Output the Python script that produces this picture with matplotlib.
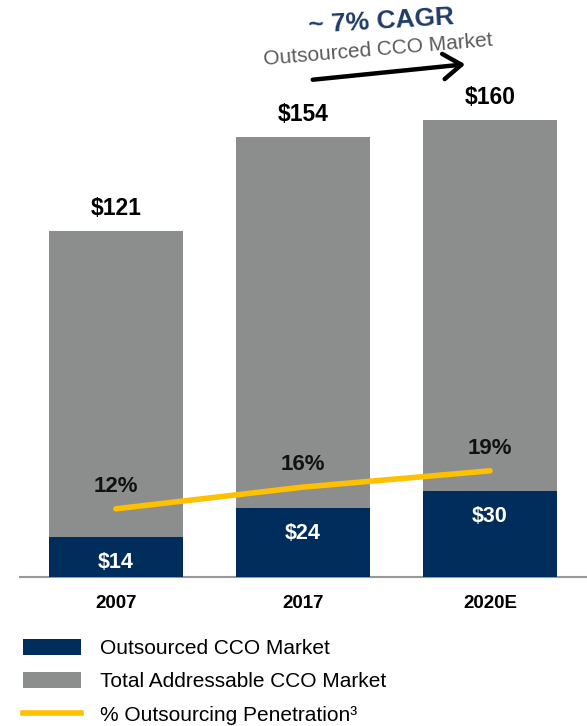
import matplotlib
matplotlib.use("Agg")
import matplotlib.pyplot as plt
from matplotlib.patches import Patch, FancyArrowPatch
from matplotlib.lines import Line2D

plt.rcParams["font.family"] = ["Liberation Sans", "DejaVu Sans"]

# data
years = ["2007", "2017", "2020E"]
total_market = [121, 154, 160]
outsourced = [14, 24, 30]
penetration = [12, 16, 19]

NAVY = "#002D5C"
GRAY = "#8C8E8D"
YELLOW = "#FFC000"

fig = plt.figure(figsize=(5.87, 7.26), dpi=100)
ax = fig.add_axes([20 / 587, 1 - 577 / 726, 1 - 20 / 587, 500 / 726])
x = list(range(len(years)))

ax.bar(x, total_market, width=0.72, color=GRAY, zorder=2)
ax.bar(x, outsourced, width=0.72, color=NAVY, zorder=3)

ax.set_xlim(-0.513, 2.519)
ax.set_ylim(0, 175)
for s in ["top", "right", "left"]:
    ax.spines[s].set_visible(False)
ax.spines["bottom"].set_color("#999999")
ax.spines["bottom"].set_linewidth(1.5)
ax.set_yticks([])
ax.set_xticks(x)
ax.set_xticklabels(years, fontsize=13.5, fontweight="bold")
ax.tick_params(axis="x", length=0, pad=13)

for xi, t in zip(x, total_market):
    ax.annotate(f"${t}", (xi, t), xytext=(0, 8), textcoords="offset points",
                ha="center", va="bottom", fontsize=16.5, fontweight="bold",
                color="black", annotation_clip=False)
for xi, o in zip(x, outsourced):
    ax.annotate(f"${o}", (xi, o), xytext=(0, -18), textcoords="offset points",
                ha="center", va="center", fontsize=15.5, fontweight="bold",
                color="white", zorder=5)

# penetration line on a twin axis
ax2 = ax.twinx()
ax2.set_ylim(-0.55, 91.5)
ax2.axis("off")
ax2.plot(x, penetration, color=YELLOW, lw=4, solid_capstyle="round", zorder=4)
for xi, p in zip(x, penetration):
    ax2.annotate(f"{p}%", (xi, p), xytext=(0, 16), textcoords="offset points",
                 ha="center", va="center", fontsize=16, fontweight="bold",
                 color="#111111")

# CAGR header
fig.text(381 / 587, 1 - 22 / 726, "~ 7% CAGR", ha="center", va="center",
         fontsize=19, fontweight="bold", color="#1F3B66", rotation=3.5)
fig.text(378 / 587, 1 - 50 / 726, "Outsourced CCO Market", ha="center",
         va="center", fontsize=15, color="#5A5A5A", rotation=4.8)
fig.add_artist(FancyArrowPatch(
    (310 / 587, 1 - 80 / 726), (468 / 587, 1 - 64 / 726),
    transform=fig.transFigure, arrowstyle="->,head_length=5,head_width=3.5",
    color="black", lw=3.2, mutation_scale=2.6))

handles = [
    Patch(facecolor=NAVY, edgecolor="none"),
    Patch(facecolor=GRAY, edgecolor="none"),
    Line2D([0], [0], color=YELLOW, lw=4),
]
labels = ["Outsourced CCO Market", "Total Addressable CCO Market",
          "% Outsourcing Penetration³"]
fig.legend(handles, labels, loc="upper left", bbox_to_anchor=(0.039, 1 - 639 / 726),
           frameon=False, fontsize=15, handlelength=2.8, handleheight=0.77,
           handletextpad=0.9, labelspacing=0.69, borderaxespad=0, borderpad=0)

fig.savefig("out.png", dpi=100, facecolor="white")
